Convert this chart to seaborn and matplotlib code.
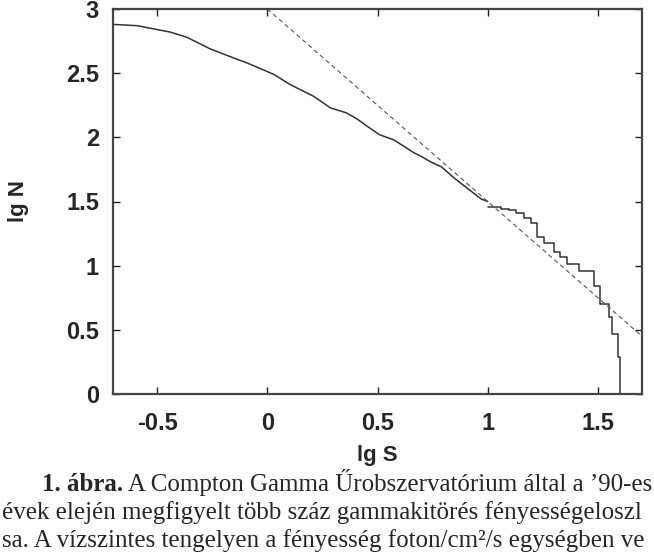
import numpy as np
import pandas as pd
import matplotlib
matplotlib.use("Agg")
import matplotlib.pyplot as plt
import seaborn as sns

# --- data ---
lgS_smooth = [-0.70, -0.59, -0.44, -0.365, -0.26, -0.14, -0.092, 0.03, 0.105, 0.21,
              0.286, 0.36, 0.41, 0.45, 0.51, 0.574, 0.62, 0.665, 0.70, 0.74,
              0.79, 0.85, 0.91, 0.97, 1.00]
lgN_smooth = [2.88, 2.87, 2.82, 2.78, 2.69, 2.61, 2.58, 2.49, 2.41, 2.32,
              2.23, 2.19, 2.14, 2.09, 2.02, 1.98, 1.93, 1.88, 1.85, 1.81,
              1.77, 1.68, 1.60, 1.52, 1.50]

lgS_step = [1.00, 1.06, 1.095, 1.127, 1.165, 1.195, 1.225, 1.256, 1.30, 1.33,
            1.36, 1.415, 1.48, 1.51, 1.55, 1.565, 1.59, 1.60, 1.605]
lgN_step = [1.46, 1.44, 1.43, 1.41, 1.37, 1.33, 1.22, 1.18, 1.11, 1.07,
            1.01, 0.955, 0.84, 0.70, 0.60, 0.47, 0.29, 0.0, 0.0]

fit_slope = -1.5
fit_intercept = 3.0
fit_start = 0.0

xticks = [-0.5, 0, 0.5, 1, 1.5]
xticklabels = ["-0.5", "0", "0.5", "1", "1.5"]
yticks = [0, 0.5, 1, 1.5, 2, 2.5, 3]
yticklabels = ["0", "0.5", "1", "1.5", "2", "2.5", "3"]
xlim = (-0.7, 1.7)
ylim = (0, 3)

caption_bold = "1. ábra."
caption_line1 = " A Compton Gamma Űrobszervatórium által a ’90-es"
caption_line2 = "évek elején megfigyelt több száz gammakitörés fényességeloszl"
caption_line3 = "sa. A vízszintes tengelyen a fényesség foton/cm²/s egységben ve"

# --- plotting ---
sns.set_style("ticks")
plt.rcParams["font.family"] = ["Liberation Sans", "DejaVu Sans"]

fig = plt.figure(figsize=(6.54, 5.58), dpi=100)
ax = fig.add_axes([113/654, 1 - 394/558, (642-113)/654, (394-9)/558])

df_s = pd.DataFrame({"lgS": lgS_smooth, "lgN": lgN_smooth})
df_t = pd.DataFrame({"lgS": lgS_step, "lgN": lgN_step})
sns.lineplot(data=df_s, x="lgS", y="lgN", ax=ax, color="#333333", lw=1.1,
             estimator=None, sort=False)
sns.lineplot(data=df_t, x="lgS", y="lgN", ax=ax, color="#333333", lw=1.1,
             estimator=None, sort=False, drawstyle="steps-post")

fx = np.array([fit_start, xlim[1]])
df_f = pd.DataFrame({"lgS": fx, "lgN": fit_intercept + fit_slope * fx})
sns.lineplot(data=df_f, x="lgS", y="lgN", ax=ax, color="#555555", lw=0.8,
             dashes=False, linestyle=(0, (4, 3)))

ax.set_xlim(*xlim)
ax.set_ylim(*ylim)
ax.set_xticks(xticks)
ax.set_xticklabels(xticklabels)
ax.set_yticks(yticks)
ax.set_yticklabels(yticklabels)
ax.tick_params(direction="in", length=5, width=1.0, top=True, right=True,
               labelsize=17, pad=10, color="#222222")
ax.tick_params(axis="x", pad=13)
for lab in ax.get_xticklabels() + ax.get_yticklabels():
    lab.set_fontweight("bold")
for sp in ax.spines.values():
    sp.set_visible(True)
    sp.set_linewidth(1.6)
    sp.set_color("#444444")

ax.set_xlabel("lg S", fontsize=16, fontweight="bold", labelpad=7)
ax.set_ylabel("lg N", fontsize=16, fontweight="bold", labelpad=27)

serif = ["Liberation Serif", "DejaVu Serif"]
fs = 18
fig.canvas.draw()
t1 = fig.text(42/654, 1 - 491/558, caption_bold, fontsize=fs, fontweight="bold",
              family=serif, va="baseline")
fig.canvas.draw()
bb = t1.get_window_extent()
fig.text(bb.x1/654, 1 - 491/558, caption_line1, fontsize=fs, family=serif, va="baseline")
fig.text(2/654, 1 - 519/558, caption_line2, fontsize=fs, family=serif, va="baseline")
fig.text(2/654, 1 - 547/558, caption_line3, fontsize=fs, family=serif, va="baseline")

fig.savefig("out.png", dpi=100)
